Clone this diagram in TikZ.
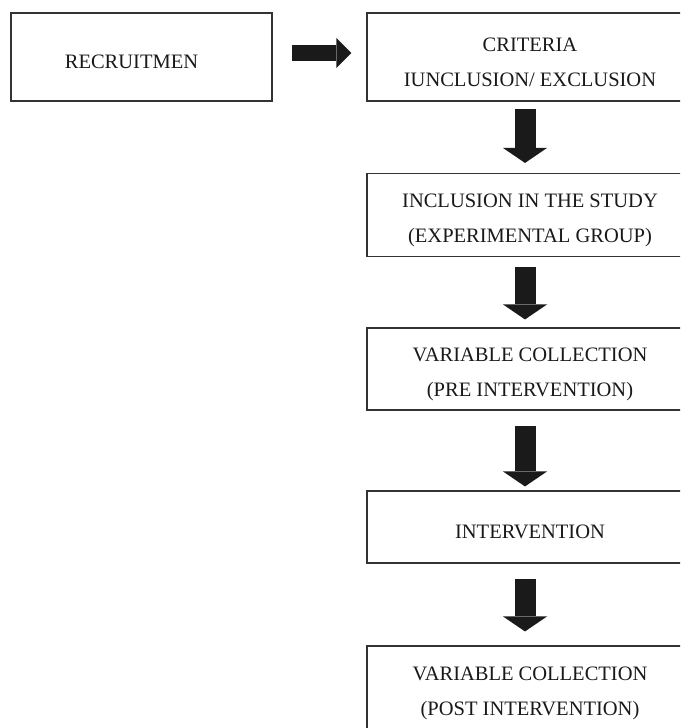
\documentclass[tikz,border=0pt]{standalone}
\usepackage{fontspec}
\setmainfont{Liberation Serif}
\usetikzlibrary{arrows.meta}
\definecolor{boxline}{HTML}{333333}
\definecolor{arrowc}{HTML}{1A1A1A}
\newcommand{\upstrut}{\rule{0pt}{24pt}}
\begin{document}
\begin{tikzpicture}[x=1pt,y=-1pt,
  box/.style={draw=boxline, line width=1.1pt, inner sep=0pt, align=center,
    font=\fontsize{20.5}{35}\selectfont, text=black!90},
  bigdown/.style={draw=arrowc, line width=21pt,
    -{Triangle[width=44pt,length=15pt,line width=0pt]}},
  bigright/.style={draw=arrowc, line width=16pt,
    -{Triangle[width=30pt,length=15pt,line width=0pt]}}]
\useasboundingbox (0,0) rectangle (680,728);
\clip (0,0) rectangle (680,728);
\node[box, minimum width=261pt, minimum height=88pt] (b1) at (141.5,57) {\upstrut RECRUITMEN\hspace*{20pt}};
\node[box, minimum width=326pt, minimum height=88pt] (b2) at (530,57) {\upstrut CRITERIA\\IUNCLUSION/ EXCLUSION};
\node[box, minimum width=326pt, minimum height=83pt] (b3) at (530,215) {\upstrut INCLUSION IN THE STUDY\\(EXPERIMENTAL GROUP)};
\node[box, minimum width=326pt, minimum height=82pt] (b4) at (530,369) {\upstrut VARIABLE COLLECTION\\(PRE INTERVENTION)};
\node[box, minimum width=326pt, minimum height=72pt] (b5) at (530,527) {\upstrut INTERVENTION};
\node[box, minimum width=326pt, minimum height=85pt] (b6) at (530,688.5) {\upstrut VARIABLE COLLECTION\\(POST INTERVENTION)};
\draw[bigright, shorten <=19pt, shorten >=15pt] ([yshift=4pt]b1.east) -- ([yshift=4pt]b2.west);
\draw[bigdown, shorten <=7pt, shorten >=10pt] ([xshift=-5pt]b2.south) -- ([xshift=-5pt]b3.north);
\draw[bigdown, shorten <=10pt, shorten >=8pt] ([xshift=-5pt]b3.south) -- ([xshift=-5pt]b4.north);
\draw[bigdown, shorten <=15pt, shorten >=4pt] ([xshift=-5pt]b4.south) -- ([xshift=-5pt]b5.north);
\draw[bigdown, shorten <=15pt, shorten >=14pt] ([xshift=-5pt]b5.south) -- ([xshift=-5pt]b6.north);
\end{tikzpicture}
\end{document}
